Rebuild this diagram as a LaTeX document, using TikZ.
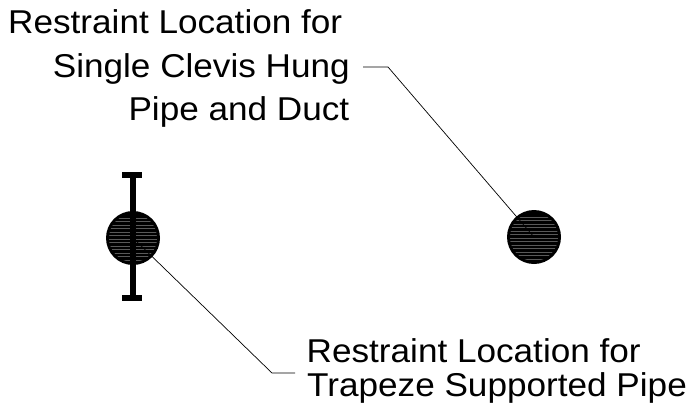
\documentclass[tikz,border=0pt]{standalone}
\usepackage{fontspec}
\setmainfont{Liberation Sans}[FakeStretch=1.065]
\begin{document}
\begin{tikzpicture}[x=1pt,y=-1pt,
  lbl/.style={inner sep=0pt, font=\fontsize{33}{40}\selectfont},
  pipe/.style={circle, fill=black, minimum size=54pt, inner sep=0pt},
  hatch/.style={black!65, line width=0.4pt},
  leader/.style={line width=0.7pt}]
\useasboundingbox (0,0) rectangle (696,415);
% pipes
\node[pipe] (lc) at (133,238) {};
\node[pipe] (rc) at (534,237) {};
\foreach \c in {lc,rc}{
  \begin{scope}
    \clip (\c.center) circle[radius=24pt];
    \foreach \yy in {-22,-18.5,...,22}
      \draw[hatch] ([xshift=-27pt,yshift=\yy pt]\c.center) -- ++(54,0);
  \end{scope}
}
% trapeze bar
\fill (130.3,172) rectangle (135.7,301);
\fill (122,172) rectangle (142,178);
\fill (122,294.5) rectangle (142,301);
% leaders
\coordinate (tl1) at (363,67);
\coordinate (tl2) at (388,67);
\draw[leader] (tl1) -- (tl2) -- (rc.center);
\coordinate (bl1) at (295,373);
\coordinate (bl2) at (272,373);
\draw[leader] (lc.center) -- (bl2) -- (bl1);
% labels
\node[lbl, anchor=base west] (t1) at (8,33.3) {Restraint Location for};
\node[lbl, anchor=base east] (t2) at (350,77.3) {Single Clevis Hung};
\node[lbl, anchor=base east] (t3) at (349.5,120.7) {Pipe and Duct};
\node[lbl, anchor=base west] (b1) at (306.5,362) {Restraint Location for};
\node[lbl, anchor=base west] (b2) at (307,396) {Trapeze Supported Pipe};
\end{tikzpicture}
\end{document}
